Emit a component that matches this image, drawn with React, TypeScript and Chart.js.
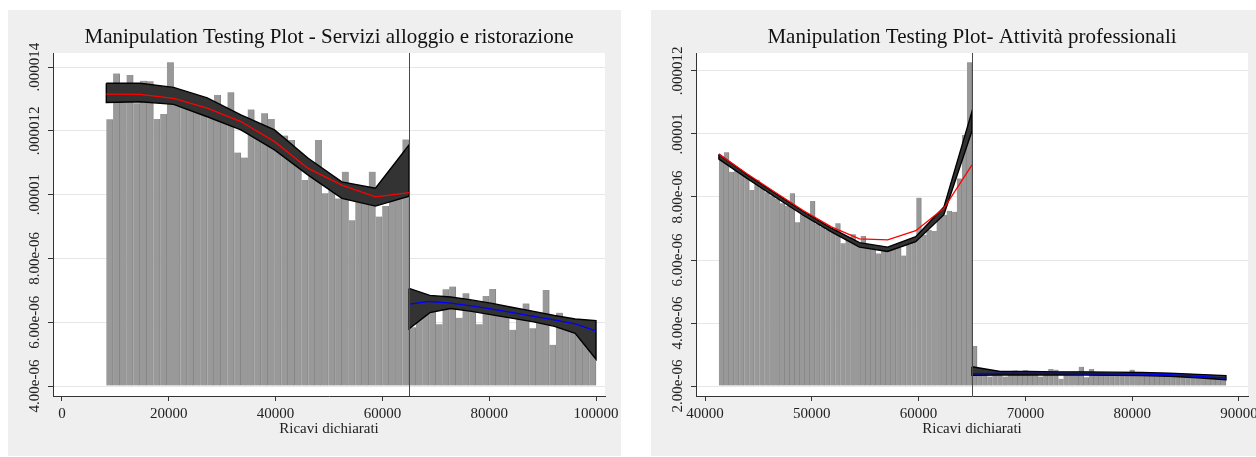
import React, { useEffect, useRef } from 'react';
import { Chart, registerables } from 'chart.js';

Chart.register(...registerables);

const SERIF = "'Liberation Serif', 'Times New Roman', Times, serif";
const PANEL_BG = '#efefef';
const BAR_FILL = '#999999';
const BAR_EDGE = '#848484';
const BAND_FILL = '#333333';
const BAND_EDGE = '#000000';
const U = 1e-6; // values below are read in units of 1e-6 (density)

// ---------------- Left panel: Servizi alloggio e ristorazione ----------------
const leftTitle = 'Manipulation Testing Plot - Servizi alloggio e ristorazione';
const leftXTicks = [0, 20000, 40000, 60000, 80000, 100000];
const leftXTickLabels = ['0', '20000', '40000', '60000', '80000', '100000'];
const leftYTicks = [4, 6, 8, 10, 12, 14];
const leftYTickLabels = ['4.00e-06', '6.00e-06', '8.00e-06', '.00001', '.000012', '.000014'];
const leftXRange = [-1685, 101685];
const leftYRange = [3.687, 14.439];
const leftCutoff = 65000;
const leftBarBase = 4;

const leftBinsBelowStart = 8300;
const leftBinsBelowWidth = 1260;
const leftBarsBelow = [
  12.36, 13.8, 13.5, 13.75, 12.86, 13.57, 13.55, 12.37, 12.53, 14.15,
  13.1, 12.95, 13.0, 12.8, 12.7, 12.39, 13.12, 12.75, 13.21, 11.32,
  11.16, 12.67, 12.2, 12.55, 12.37, 11.4, 11.85, 11.71, 11.3, 10.46,
  10.9, 11.71, 10.04, 10.3, 9.88, 10.72, 9.2, 9.95, 9.9, 10.72,
  9.31, 9.64, 10.0, 10.1, 11.73,
];
const leftBinsAboveStart = 65000;
const leftBinsAboveWidth = 1250;
const leftBarsAbove = [
  5.84, 6.4, 6.45, 6.7, 5.94, 7.03, 7.12, 6.14, 6.91, 6.55,
  5.94, 6.82, 7.04, 6.35, 6.4, 5.76, 6.25, 6.59, 5.81, 6.1,
  7.01, 5.29, 6.3, 6.05, 6.0, 5.9, 5.85, 5.8,
];

const leftGridBelow = [8300, 14600, 20900, 27200, 33500, 39800, 46100, 52400, 58700, 65000];
const leftUpperBelow = [13.49, 13.49, 13.36, 13.03, 12.5, 12.03, 11.14, 10.4, 10.2, 11.56];
const leftFitBelow = [13.15, 13.14, 13.02, 12.71, 12.29, 11.66, 10.82, 10.3, 9.93, 10.06];
const leftLowerBelow = [12.89, 12.91, 12.83, 12.44, 12.03, 11.4, 10.61, 9.88, 9.64, 9.95];

const leftGridAbove = [65000, 68889, 72778, 76667, 80556, 84444, 88333, 92222, 96111, 100000];
const leftUpperAbove = [7.06, 6.84, 6.79, 6.7, 6.59, 6.46, 6.34, 6.21, 6.1, 6.05];
const leftFitAbove = [6.57, 6.65, 6.6, 6.51, 6.41, 6.3, 6.18, 6.07, 5.95, 5.73];
const leftLowerAbove = [5.79, 6.3, 6.43, 6.34, 6.23, 6.12, 6.01, 5.87, 5.65, 4.84];

// ---------------- Right panel: Attività professionali ----------------
const rightTitle = 'Manipulation Testing Plot- Attività professionali';
const rightXTicks = [40000, 50000, 60000, 70000, 80000, 90000];
const rightXTickLabels = ['40000', '50000', '60000', '70000', '80000', '90000'];
const rightYTicks = [2, 4, 6, 8, 10, 12];
const rightYTickLabels = ['2.00e-06', '4.00e-06', '6.00e-06', '8.00e-06', '.00001', '.000012'];
const rightXRange = [39157, 90843];
const rightYRange = [1.683, 12.571];
const rightCutoff = 65000;
const rightBarBase = 2;

const rightBinsBelowStart = 41300;
const rightBinsBelowWidth = 474;
const rightBarsBelow = [
  9.25, 9.42, 8.8, 8.85, 8.75, 8.7, 8.22, 8.55, 8.3, 8.15,
  8.05, 7.95, 7.8, 7.72, 8.12, 7.2, 7.45, 7.4, 7.87, 7.15,
  7.05, 6.95, 6.88, 7.17, 6.53, 6.65, 6.82, 6.45, 6.76, 6.4,
  6.35, 6.21, 6.3, 6.3, 6.35, 6.4, 6.14, 6.5, 6.6, 7.98,
  6.8, 6.95, 6.92, 7.45, 7.43, 7.56, 7.53, 8.59, 9.97, 12.28,
];
const rightBinsAboveStart = 65000;
const rightBinsAboveWidth = 475.6;
const rightBarsAbove = [
  3.27, 2.45, 2.4, 2.3, 2.42, 2.4, 2.3, 2.42, 2.49, 2.42,
  2.5, 2.42, 2.41, 2.3, 2.42, 2.54, 2.52, 2.23, 2.42, 2.42,
  2.45, 2.61, 2.28, 2.54, 2.42, 2.41, 2.4, 2.42, 2.41, 2.4,
  2.4, 2.52, 2.4, 2.39, 2.38, 2.38, 2.37, 2.37, 2.36, 2.35,
  2.35, 2.34, 2.33, 2.32, 2.36, 2.3, 2.29, 2.28, 2.26, 2.25,
];

const rightGridBelow = [41300, 43933, 46567, 49200, 51833, 54467, 57100, 59733, 62367, 65000];
const rightUpperBelow = [9.36, 8.71, 8.12, 7.54, 7.01, 6.55, 6.41, 6.74, 7.68, 10.72];
const rightFitBelow = [9.36, 8.74, 8.15, 7.57, 7.05, 6.67, 6.64, 6.93, 7.64, 9.02];
const rightLowerBelow = [9.2, 8.59, 8.0, 7.42, 6.89, 6.41, 6.27, 6.58, 7.44, 10.1];

const rightGridAbove = [65000, 67642, 70284, 72927, 75569, 78211, 80853, 83496, 86138, 88780];
const rightUpperAbove = [2.61, 2.46, 2.46, 2.45, 2.45, 2.44, 2.43, 2.41, 2.37, 2.33];
const rightFitAbove = [2.39, 2.4, 2.4, 2.4, 2.39, 2.39, 2.38, 2.36, 2.31, 2.25];
const rightLowerAbove = [2.34, 2.35, 2.35, 2.35, 2.35, 2.34, 2.33, 2.31, 2.26, 2.2];

type PanelSpec = {
  title: string;
  xTicks: number[];
  xTickLabels: string[];
  yTicks: number[];
  yTickLabels: string[];
  xRange: number[];
  yRange: number[];
  cutoff: number;
  barBase: number;
  belowStart: number;
  belowWidth: number;
  barsBelow: number[];
  aboveStart: number;
  aboveWidth: number;
  barsAbove: number[];
  gridBelow: number[];
  upperBelow: number[];
  fitBelow: number[];
  lowerBelow: number[];
  gridAbove: number[];
  upperAbove: number[];
  fitAbove: number[];
  lowerAbove: number[];
  left: number;
  top: number;
  width: number;
  height: number;
  padRight: number;
};

function bins(start: number, width: number, values: number[]) {
  return values.map((v, i) => ({ x: start + width * (i + 0.5), y: v * U }));
}

function line(grid: number[], vals: number[]) {
  return grid.map((x, i) => ({ x, y: vals[i] * U }));
}

function band(grid: number[], upper: number[], lower: number[]) {
  const pts = grid.map((x, i) => ({ x, y: upper[i] * U }));
  for (let i = grid.length - 1; i >= 0; i--) pts.push({ x: grid[i], y: lower[i] * U });
  pts.push({ x: grid[0], y: upper[0] * U });
  return pts;
}

function Panel({ spec }: { spec: PanelSpec }) {
  const ref = useRef<HTMLCanvasElement | null>(null);

  useEffect(() => {
    const canvas = ref.current;
    if (!canvas) return;
    const s = spec;
    const decor = {
      id: 'decor',
      beforeDraw(chart: any) {
        const { ctx, chartArea: a } = chart;
        ctx.save();
        ctx.fillStyle = '#ffffff';
        ctx.fillRect(a.left, a.top, a.right - a.left, a.bottom - a.top);
        ctx.restore();
      },
      afterDatasetsDraw(chart: any) {
        const { ctx, chartArea: a, scales } = chart;
        const px = Math.round(scales.x.getPixelForValue(s.cutoff)) + 0.5;
        ctx.save();
        ctx.strokeStyle = '#4a4a4a';
        ctx.lineWidth = 1;
        ctx.beginPath();
        ctx.moveTo(px, a.top);
        ctx.lineTo(px, a.bottom);
        ctx.stroke();
        ctx.fillStyle = '#222222';
        ctx.font = `15px ${SERIF}`;
        ctx.textAlign = 'center';
        ctx.textBaseline = 'middle';
        s.yTicks.forEach((v, i) => {
          const py = scales.y.getPixelForValue(v * U);
          ctx.save();
          ctx.translate(a.left - 17.5, py);
          ctx.rotate(-Math.PI / 2);
          ctx.fillText(s.yTickLabels[i], 0, 0);
          ctx.restore();
        });
        ctx.restore();
      },
    };

    const chart = new Chart(canvas, {
      type: 'bar',
      data: {
        datasets: [
          {
            type: 'line',
            data: line(s.gridBelow, s.fitBelow),
            borderColor: '#ff0000',
            borderWidth: 1.3,
            pointRadius: 0,
            tension: 0,
            fill: false,
            order: 0,
          } as any,
          {
            type: 'line',
            data: line(s.gridAbove, s.fitAbove),
            borderColor: '#0000ff',
            borderWidth: 1.3,
            pointRadius: 0,
            tension: 0,
            fill: false,
            order: 0,
          },
          {
            type: 'line',
            data: band(s.gridBelow, s.upperBelow, s.lowerBelow),
            borderColor: BAND_EDGE,
            backgroundColor: BAND_FILL,
            borderWidth: 1.4,
            borderJoinStyle: 'miter',
            pointRadius: 0,
            tension: 0,
            fill: 'shape',
            order: 1,
          },
          {
            type: 'line',
            data: band(s.gridAbove, s.upperAbove, s.lowerAbove),
            borderColor: BAND_EDGE,
            backgroundColor: BAND_FILL,
            borderWidth: 1.4,
            borderJoinStyle: 'miter',
            pointRadius: 0,
            tension: 0,
            fill: 'shape',
            order: 1,
          },
          {
            type: 'bar',
            data: [
              ...bins(s.belowStart, s.belowWidth, s.barsBelow),
              ...bins(s.aboveStart, s.aboveWidth, s.barsAbove),
            ],
            base: s.barBase * U,
            backgroundColor: BAR_FILL,
            borderColor: BAR_EDGE,
            borderWidth: { left: 0, right: 1, top: 0, bottom: 0 },
            borderSkipped: false,
            categoryPercentage: 1,
            barPercentage: 1,
            grouped: false,
            order: 2,
          },
        ] as any,
      },
      options: {
        responsive: false,
        animation: false,
        events: [],
        layout: { autoPadding: false, padding: { left: 0, right: s.padRight, top: 0, bottom: 0 } },
        plugins: {
          legend: { display: false },
          tooltip: { enabled: false },
          title: {
            display: true,
            text: s.title,
            fullSize: false,
            color: '#111111',
            font: { family: SERIF, size: 21, weight: 'normal', lineHeight: 1.2 },
            padding: { top: 14.8, bottom: 3.0 },
          },
        },
        scales: {
          x: {
            type: 'linear',
            min: s.xRange[0],
            max: s.xRange[1],
            offset: false,
            afterBuildTicks: (sc: any) => {
              sc.ticks = s.xTicks.map((v) => ({ value: v }));
            },
            afterFit: (sc: any) => {
              sc.height = 60;
              sc.paddingLeft = 0;
              sc.paddingRight = 0;
            },
            ticks: {
              autoSkip: false,
              maxRotation: 0,
              minRotation: 0,
              padding: 4.5,
              color: '#222222',
              font: { family: SERIF, size: 15 },
              callback: (_v: any, i: number) => s.xTickLabels[i],
            },
            grid: {
              display: true,
              drawOnChartArea: false,
              drawTicks: true,
              tickLength: 5,
              tickColor: '#333333',
              offset: false,
            },
            border: { display: true, color: '#333333', width: 1 },
            title: {
              display: true,
              text: 'Ricavi dichiarati',
              color: '#222222',
              font: { family: SERIF, size: 15, lineHeight: 1.2 },
              padding: { top: 0, bottom: 18 },
            },
          },
          y: {
            type: 'linear',
            min: s.yRange[0] * U,
            max: s.yRange[1] * U,
            afterBuildTicks: (sc: any) => {
              sc.ticks = s.yTicks.map((v) => ({ value: v * U }));
            },
            afterFit: (sc: any) => {
              sc.width = 45;
            },
            ticks: { display: false },
            grid: {
              display: true,
              drawOnChartArea: true,
              color: '#e6e6e6',
              lineWidth: 1,
              drawTicks: true,
              tickLength: 5,
              tickColor: '#333333',
            },
            border: { display: true, color: '#333333', width: 1 },
          },
        },
      } as any,
      plugins: [decor],
    });
    return () => chart.destroy();
  }, [spec]);

  return (
    <div
      style={{
        position: 'absolute',
        left: spec.left,
        top: spec.top,
        width: spec.width,
        height: spec.height,
        background: PANEL_BG,
      }}
    >
      <canvas ref={ref} width={spec.width} height={spec.height} style={{ display: 'block' }} />
    </div>
  );
}

const leftSpec: PanelSpec = {
  title: leftTitle,
  xTicks: leftXTicks,
  xTickLabels: leftXTickLabels,
  yTicks: leftYTicks,
  yTickLabels: leftYTickLabels,
  xRange: leftXRange,
  yRange: leftYRange,
  cutoff: leftCutoff,
  barBase: leftBarBase,
  belowStart: leftBinsBelowStart,
  belowWidth: leftBinsBelowWidth,
  barsBelow: leftBarsBelow,
  aboveStart: leftBinsAboveStart,
  aboveWidth: leftBinsAboveWidth,
  barsAbove: leftBarsAbove,
  gridBelow: leftGridBelow,
  upperBelow: leftUpperBelow,
  fitBelow: leftFitBelow,
  lowerBelow: leftLowerBelow,
  gridAbove: leftGridAbove,
  upperAbove: leftUpperAbove,
  fitAbove: leftFitAbove,
  lowerAbove: leftLowerAbove,
  left: 8,
  top: 10,
  width: 613,
  height: 446,
  padRight: 16,
};

const rightSpec: PanelSpec = {
  title: rightTitle,
  xTicks: rightXTicks,
  xTickLabels: rightXTickLabels,
  yTicks: rightYTicks,
  yTickLabels: rightYTickLabels,
  xRange: rightXRange,
  yRange: rightYRange,
  cutoff: rightCutoff,
  barBase: rightBarBase,
  belowStart: rightBinsBelowStart,
  belowWidth: rightBinsBelowWidth,
  barsBelow: rightBarsBelow,
  aboveStart: rightBinsAboveStart,
  aboveWidth: rightBinsAboveWidth,
  barsAbove: rightBarsAbove,
  gridBelow: rightGridBelow,
  upperBelow: rightUpperBelow,
  fitBelow: rightFitBelow,
  lowerBelow: rightLowerBelow,
  gridAbove: rightGridAbove,
  upperAbove: rightUpperAbove,
  fitAbove: rightFitAbove,
  lowerAbove: rightLowerAbove,
  left: 651,
  top: 10,
  width: 605,
  height: 446,
  padRight: 8,
};

export default function App() {
  return (
    <div
      style={{
        position: 'absolute',
        left: 0,
        top: 0,
        width: 1256,
        height: 457,
        background: '#ffffff',
        overflow: 'hidden',
      }}
    >
      <Panel spec={leftSpec} />
      <Panel spec={rightSpec} />
    </div>
  );
}
